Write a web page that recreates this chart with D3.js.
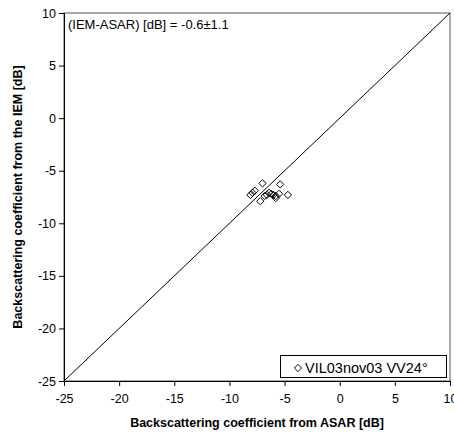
<!DOCTYPE html>
<html>
<head>
<meta charset="utf-8">
<script src="https://cdn.jsdelivr.net/npm/d3@7"></script>
<style>
  html, body { margin: 0; padding: 0; background: #fff; }
  svg { display: block; font-family: "Liberation Sans", Arial, sans-serif; }
</style>
</head>
<body>
<svg id="chart" width="454" height="435"></svg>
<script>
// Data (dB)
const asarValues = [-8.1, -7.9, -7.7, -7.0, -7.2, -6.8, -5.4, -6.4, -6.2, -6.0, -5.8, -5.5, -5.8, -4.7, -6.6];
const iemValues  = [-7.3, -7.1, -6.9, -6.2, -7.9, -7.4, -6.3, -7.1, -7.2, -7.3, -7.4, -7.2, -7.6, -7.3, -7.3];
const tickValues = [-25, -20, -15, -10, -5, 0, 5, 10];
const seriesName = "VIL03nov03 VV24°";
const annotation = "(IEM-ASAR) [dB] = -0.6±1.1";
const xTitle = "Backscattering coefficient from ASAR [dB]";
const yTitle = "Backscattering coefficient from the IEM [dB]";

const W = 454, H = 435;
const m = {left: 64, right: 4, top: 13, bottom: 54};
const svg = d3.select("#chart");

const x = d3.scaleLinear().domain([-25, 10]).range([m.left, W - m.right]);
const y = d3.scaleLinear().domain([-25, 10]).range([H - m.bottom, m.top]);

// plot frame (top/right)
svg.append("rect")
  .attr("x", x(-25)).attr("y", y(10))
  .attr("width", x(10) - x(-25)).attr("height", y(-25) - y(10))
  .attr("fill", "none").attr("stroke", "#555").attr("stroke-width", 1);

// axes
const xAxis = svg.append("g")
  .attr("transform", `translate(0,${y(-25)})`)
  .call(d3.axisBottom(x).tickValues(tickValues).tickSize(5).tickPadding(8).tickFormat(d3.format("d")));
const yAxis = svg.append("g")
  .attr("transform", `translate(${x(-25)},0)`)
  .call(d3.axisLeft(y).tickValues(tickValues).tickSize(5).tickPadding(3).tickFormat(d3.format("d")));
[xAxis, yAxis].forEach(g => {
  g.selectAll("path").attr("stroke", "#000");
  g.selectAll("line").attr("stroke", "#000");
  g.selectAll("text").attr("font-size", 12.5).attr("fill", "#000")
    .attr("font-family", "'Liberation Sans', Arial, sans-serif");
});
// fix minus sign to hyphen style
svg.selectAll(".tick text").text(d => String(d));

// 1:1 line
svg.append("line")
  .attr("x1", x(-25)).attr("y1", y(-25))
  .attr("x2", x(10)).attr("y2", y(10))
  .attr("stroke", "#000").attr("stroke-width", 1);

// points (open diamonds)
const pts = asarValues.map((v, i) => ({a: v, b: iemValues[i]}));
const diamond = d3.symbol().type(d3.symbolDiamond2).size(34);
svg.append("g").selectAll("path").data(pts).join("path")
  .attr("d", diamond)
  .attr("transform", d => `translate(${x(d.a)},${y(d.b)}) rotate(0)`)
  .attr("fill", "none").attr("stroke", "#000").attr("stroke-width", 1);

// annotation
svg.append("text")
  .attr("x", x(-25) + 4).attr("y", y(10) + 16)
  .attr("font-size", 13).attr("fill", "#000")
  .text(annotation);

// legend
const lg = svg.append("g");
lg.append("rect")
  .attr("x", 280.5).attr("y", 355.5).attr("width", 166).attr("height", 22)
  .attr("fill", "#fff").attr("stroke", "#000").attr("stroke-width", 1);
lg.append("path")
  .attr("d", diamond)
  .attr("transform", `translate(298,368)`)
  .attr("fill", "none").attr("stroke", "#000");
lg.append("text")
  .attr("x", 305).attr("y", 373)
  .attr("font-size", 14.5).attr("fill", "#000")
  .text(seriesName);

// axis titles
svg.append("text")
  .attr("x", (x(-25) + x(10)) / 2).attr("y", 427)
  .attr("text-anchor", "middle").attr("font-weight", "bold").attr("font-size", 12.5)
  .text(xTitle);
svg.append("text")
  .attr("transform", `translate(22,${(y(10) + y(-25)) / 2}) rotate(-90)`)
  .attr("text-anchor", "middle").attr("font-weight", "bold").attr("font-size", 12.5)
  .text(yTitle);
</script>
</body>
</html>
